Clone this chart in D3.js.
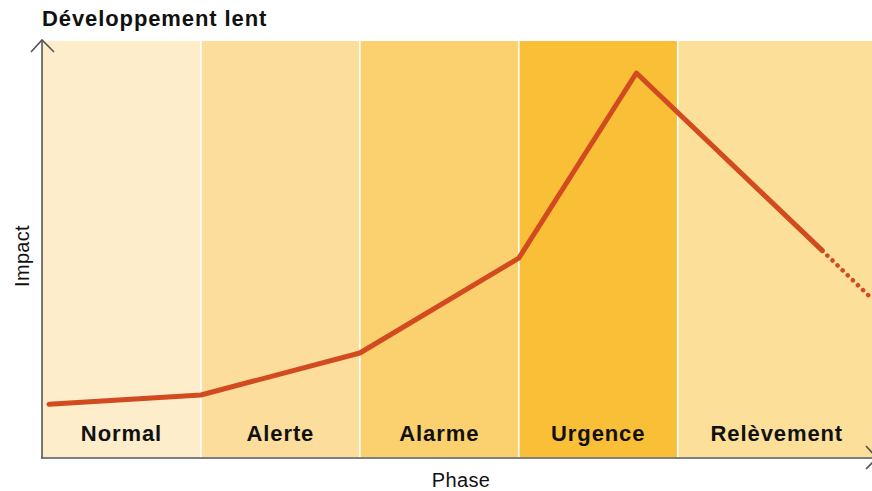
<!DOCTYPE html>
<html><head><meta charset="utf-8">
<script src="https://cdn.jsdelivr.net/npm/d3@7"></script>
<style>body{margin:0;background:#fff}svg{display:block}</style>
</head><body>
<svg id="c" width="872" height="491"></svg>
<script>
const title = "Développement lent";
const phases = ["Normal","Alerte","Alarme","Urgence","Relèvement"];
const phaseColors = ["#fdedcb","#fcdd9c","#fbd06f","#f9bf37","#fcdf98"];
// impact line: phase position (in phase units) and impact value (0-100)
const solidX = [0.044, 1.0, 2.0, 3.0, 3.74, 4.91];
const solidY = [12.7, 14.9, 25.0, 47.8, 92.3, 49.6];
const dottedX = [4.91, 5.215];
const dottedY = [49.6, 38.3];
const xLabel = "Phase", yLabel = "Impact";

const svg = d3.select("#c");
const x0 = 42, yBottom = 457, yTop = 41;
const x = d3.scaleLinear().domain([0, 4]).range([x0, 677.7]);
const y = d3.scaleLinear().domain([0, 100]).range([yBottom, yTop]);
const FF = "Liberation Sans, Arial, Helvetica, sans-serif";

// bands
const bandEnd = i => i === 4 ? 900 : x(i + 1);
svg.selectAll("rect.band").data(phases).join("rect")
  .attr("x", (d,i)=>x(i)).attr("y", yTop)
  .attr("width", (d,i)=>bandEnd(i)-x(i)).attr("height", yBottom-yTop)
  .attr("fill", (d,i)=>phaseColors[i]);
// separators
svg.selectAll("line.sep").data(d3.range(1,5)).join("line")
  .attr("x1", d=>x(d)).attr("x2", d=>x(d)).attr("y1", yTop).attr("y2", yBottom)
  .attr("stroke", "#fff").attr("stroke-width", 1.6);
// band labels
svg.selectAll("text.bl").data(phases).join("text")
  .attr("x", (d,i)=> i===4 ? (x(4)+872)/2 + 2 : (x(i)+x(i+1))/2)
  .attr("y", 441).attr("text-anchor","middle")
  .attr("font-family",FF).attr("font-weight","bold")
  .attr("font-size", 22).attr("letter-spacing", 0.9).attr("fill","#111").text(d=>d);

// line
const line = d3.line().x(d=>x(d[0])).y(d=>y(d[1]));
svg.append("path").datum(d3.zip(solidX, solidY)).attr("d", line)
  .attr("fill","none").attr("stroke","#d24a1f").attr("stroke-width",5)
  .attr("stroke-linejoin","round").attr("stroke-linecap","round");
svg.append("path").datum(d3.zip(dottedX, dottedY)).attr("d", line)
  .attr("fill","none").attr("stroke","#d24a1f").attr("stroke-width",4.5)
  .attr("stroke-linecap","round").attr("stroke-dasharray","0.1 7").attr("stroke-dashoffset",-7);

// axes
const ax = svg.append("g").attr("stroke","#555").attr("stroke-width",1.6).attr("fill","none");
ax.append("line").attr("x1",x0).attr("x2",x0).attr("y1",40).attr("y2",yBottom+1);
ax.append("line").attr("x1",x0-1).attr("x2",878).attr("y1",yBottom+1).attr("y2",yBottom+1);
ax.append("path").attr("d",`M${x0-11},${52} L${x0},${40} L${x0+12},${52}`);
ax.append("path").attr("d",`M866,446 L877,${yBottom+1} L866,469`);

// texts
svg.append("text").attr("x",42).attr("y",26)
  .attr("font-family",FF).attr("font-weight","bold")
  .attr("font-size",22).attr("letter-spacing",0.9).attr("fill","#111").text(title);
svg.append("text").attr("x",461).attr("y",487).attr("text-anchor","middle")
  .attr("font-family",FF).attr("font-size",20).attr("letter-spacing",0.4)
  .attr("fill","#111").text(xLabel);
svg.append("text").attr("transform","translate(29,256) rotate(-90)").attr("text-anchor","middle")
  .attr("font-family",FF).attr("font-size",20).attr("letter-spacing",0.3)
  .attr("fill","#111").text(yLabel);
</script>
</body></html>
